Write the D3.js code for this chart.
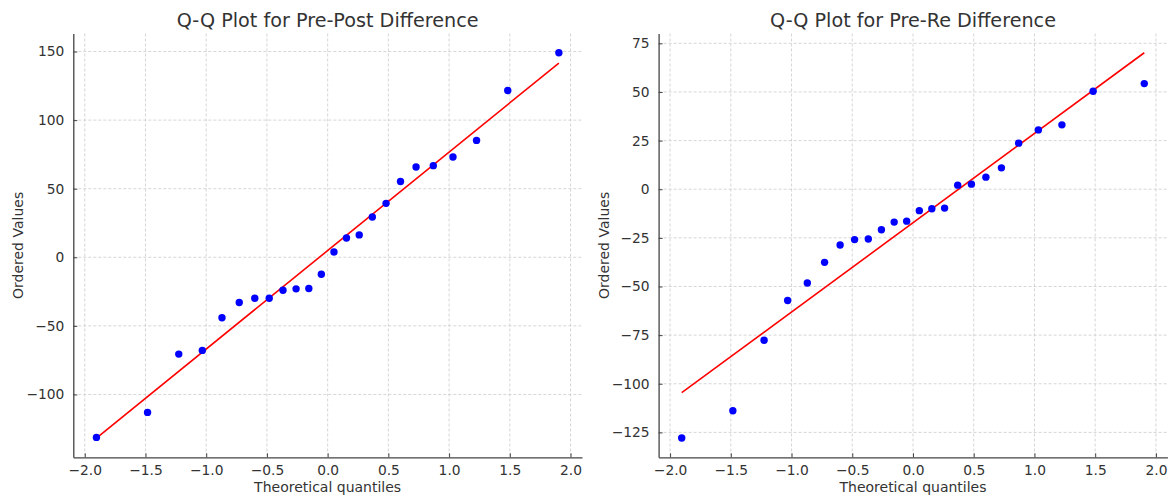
<!DOCTYPE html>
<html>
<head>
<meta charset="utf-8">
<script src="https://cdn.jsdelivr.net/npm/d3@7"></script>
<style>
  html, body { margin: 0; padding: 0; background: #fff; }
  svg { display: block; font-family: "DejaVu Sans", sans-serif; }
</style>
</head>
<body>
<svg id="chart" width="1174" height="496"></svg>
<script>
// Theoretical normal quantiles (n = 24)
const theoreticalQuantiles = [-1.904, -1.483, -1.226, -1.032, -0.870, -0.728, -0.600, -0.481,
  -0.368, -0.260, -0.155, -0.052, 0.052, 0.155, 0.260, 0.368, 0.481, 0.600, 0.728, 0.870,
  1.032, 1.226, 1.483, 1.904];

// Ordered values
const prePostValues = [-131.3, -113.1, -70.6, -67.9, -44.1, -33.0, -29.9, -29.9, -24.0, -23.0,
  -22.8, -12.4, 3.9, 14.1, 16.3, 29.4, 39.3, 55.3, 65.8, 66.8, 73.1, 85.2, 121.6, 149.1];
const preReValues = [-127.9, -113.9, -77.6, -57.2, -48.2, -37.6, -28.7, -25.9, -25.6, -20.8,
  -16.9, -16.4, -11.0, -10.0, -9.7, 2.1, 2.6, 6.2, 11.0, 23.7, 30.5, 33.1, 50.4, 54.3];

const titles = ["Q-Q Plot for Pre-Post Difference", "Q-Q Plot for Pre-Re Difference"];
const xTicks = [-2.0, -1.5, -1.0, -0.5, 0.0, 0.5, 1.0, 1.5, 2.0];
const yTicksLeft = [-100, -50, 0, 50, 100, 150];
const yTicksRight = [-125, -100, -75, -50, -25, 0, 25, 50, 75];
const xLabel = "Theoretical quantiles";
const yLabel = "Ordered Values";

const svg = d3.select("#chart");
svg.append("rect").attr("width", 1174).attr("height", 496).attr("fill", "#fff");

const panels = [
  { values: prePostValues, title: titles[0], yTicks: yTicksLeft, x0: 73.3, x1: 582, ylabX: 18 },
  { values: preReValues, title: titles[1], yTicks: yTicksRight, x0: 658.6, x1: 1167.4, ylabX: 604 }
];
const plotTop = 33.5, plotBottom = 457.3;

function fit(xs, ys) {
  const mx = d3.mean(xs), my = d3.mean(ys);
  let sxy = 0, sxx = 0;
  xs.forEach((x, i) => { sxy += (x - mx) * (ys[i] - my); sxx += (x - mx) * (x - mx); });
  const slope = sxy / sxx;
  return { slope, intercept: my - slope * mx };
}

panels.forEach(p => {
  const xs = theoreticalQuantiles, ys = p.values;
  const f = fit(xs, ys);
  const lineY0 = f.intercept + f.slope * xs[0];
  const lineY1 = f.intercept + f.slope * xs[xs.length - 1];

  const xMin = d3.min(xs), xMax = d3.max(xs);
  const xm = (xMax - xMin) * 0.05;
  const yMin = Math.min(d3.min(ys), lineY0, lineY1), yMax = Math.max(d3.max(ys), lineY0, lineY1);
  const ym = (yMax - yMin) * 0.05;

  const x = d3.scaleLinear().domain([xMin - xm, xMax + xm]).range([p.x0, p.x1]);
  const y = d3.scaleLinear().domain([yMin - ym, yMax + ym]).range([plotBottom, plotTop]);

  const g = svg.append("g");

  // grid
  g.append("g").selectAll("line").data(xTicks).join("line")
    .attr("x1", d => x(d)).attr("x2", d => x(d)).attr("y1", plotTop).attr("y2", plotBottom)
    .attr("stroke", "#cccccc").attr("stroke-width", 0.8).attr("stroke-dasharray", "3,2");
  g.append("g").selectAll("line").data(p.yTicks).join("line")
    .attr("x1", p.x0).attr("x2", p.x1).attr("y1", d => y(d)).attr("y2", d => y(d))
    .attr("stroke", "#cccccc").attr("stroke-width", 0.8).attr("stroke-dasharray", "3,2");

  // axes
  const xAxis = d3.axisBottom(x).tickValues(xTicks).tickFormat(d3.format(".1f"))
    .tickSizeInner(-4).tickSizeOuter(0).tickPadding(8);
  const gx = g.append("g").attr("transform", `translate(0,${plotBottom})`).call(xAxis);
  const yAxis = d3.axisLeft(y).tickValues(p.yTicks).tickFormat(d3.format("d"))
    .tickSizeInner(-4).tickSizeOuter(0).tickPadding(9);
  const gy = g.append("g").attr("transform", `translate(${p.x0},0)`).call(yAxis);
  [gx, gy].forEach(a => {
    a.select(".domain").attr("stroke", "#444").attr("stroke-width", 1.3);
    a.selectAll(".tick line").attr("stroke", "#444").attr("stroke-width", 1);
    a.selectAll(".tick text").attr("fill", "#333").style("font-size", "13.8px")
      .style("font-family", "DejaVu Sans, sans-serif");
  });

  // fit line
  g.append("line")
    .attr("x1", x(xs[0])).attr("y1", y(lineY0))
    .attr("x2", x(xs[xs.length - 1])).attr("y2", y(lineY1))
    .attr("stroke", "#ff0000").attr("stroke-width", 1.6);

  // points
  g.append("g").selectAll("circle").data(xs).join("circle")
    .attr("cx", d => x(d)).attr("cy", (d, i) => y(ys[i])).attr("r", 3.7)
    .attr("fill", "#0000ff");

  // title and labels
  g.append("text").attr("x", (p.x0 + p.x1) / 2).attr("y", 27.3)
    .attr("text-anchor", "middle").attr("fill", "#333").style("font-size", "19.2px")
    .text(p.title);
  g.append("text").attr("x", (p.x0 + p.x1) / 2).attr("y", 491.5)
    .attr("text-anchor", "middle").attr("fill", "#333").style("font-size", "14px")
    .text(xLabel);
  g.append("text").attr("transform", `translate(${p.ylabX},${(plotTop + plotBottom) / 2}) rotate(-90)`)
    .attr("text-anchor", "middle").attr("dominant-baseline", "central")
    .attr("fill", "#333").style("font-size", "14px").text(yLabel);
});
</script>
</body>
</html>
